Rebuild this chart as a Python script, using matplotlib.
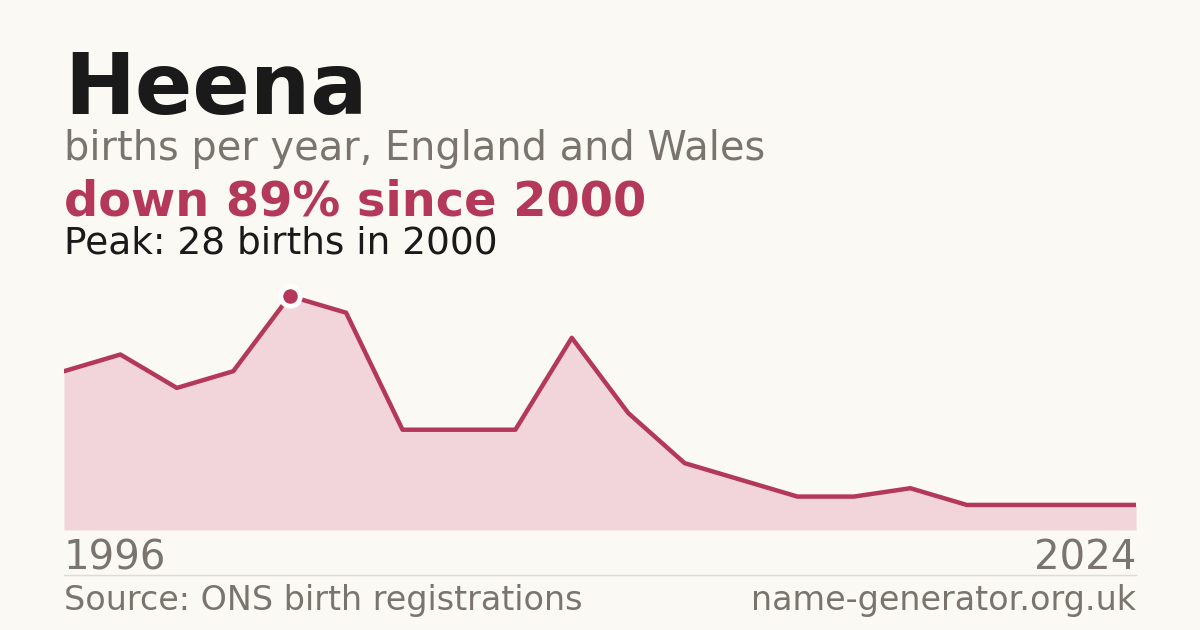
import os
import numpy as np
import matplotlib as mpl
import matplotlib.pyplot as plt
from matplotlib.font_manager import FontProperties

ttf_dir = os.path.join(mpl.get_data_path(), 'fonts', 'ttf')
reg_file = os.path.join(ttf_dir, 'DejaVuSans.ttf')
bold_file = os.path.join(ttf_dir, 'DejaVuSans-Bold.ttf')

def font(size, bold=False):
    return FontProperties(fname=bold_file if bold else reg_file, size=size)

# births per year (only reported years)
births = [19, 21, 17, 19, 28, 26, 12, 12, 12, 23, 14, 8, 6, 4, 4, 5, 3, 3, 3, 3]
first_year = "1996"
last_year = "2024"
peak_idx = 4

bg = '#faf9f4'
red = '#b3385a'
fill_col = '#f1d5da'
grey = '#7a746e'
dark = '#1a1a1a'

W, H = 1200, 630
fig = plt.figure(figsize=(12, 6.3), dpi=100, facecolor=bg)

def fx(p):
    return p / W

def fy(p):
    return 1 - p / H

# plot area: x 64..1136, y 280..530 px
ax = fig.add_axes([fx(64), fy(530), fx(1136 - 64), (530 - 280) / H])
ax.set_facecolor(bg)
x = np.arange(len(births))
ax.fill_between(x, births, 0, color=fill_col, lw=0)
ax.plot(x, births, color=red, lw=3.2, solid_joinstyle='round')
ax.plot(x[peak_idx], births[peak_idx], 'o', ms=14, color=red,
        mec='white', mew=3.5, zorder=5)
ax.set_xlim(0, len(births) - 1)
ax.set_ylim(0, 28 * 250 / 234)
ax.axis('off')

fig.text(fx(64), fy(114), "Heena", fontproperties=font(61, True), color=dark, va='baseline')
fig.text(fx(64), fy(160), "births per year, England and Wales", fontproperties=font(28.7), color=grey, va='baseline')
fig.text(fx(64), fy(215), "down 89% since 2000", fontproperties=font(34.5, True), color=red, va='baseline')
fig.text(fx(64), fy(254), "Peak: 28 births in 2000", fontproperties=font(27), color=dark, va='baseline')

fig.text(fx(64), fy(570), first_year, fontproperties=font(29), color=grey, va='baseline')
fig.text(fx(1136), fy(570), last_year, fontproperties=font(29), color=grey, va='baseline', ha='right')

fig.add_artist(plt.Line2D([fx(64), fx(1136)], [fy(574.5), fy(574.5)], color='#dedbd4', lw=1))

fig.text(fx(64), fy(610), "Source: ONS birth registrations", fontproperties=font(24), color=grey, va='baseline')
fig.text(fx(1136), fy(610), "name-generator.org.uk", fontproperties=font(24), color=grey, va='baseline', ha='right')

fig.savefig('out.png', dpi=100, facecolor=bg)
